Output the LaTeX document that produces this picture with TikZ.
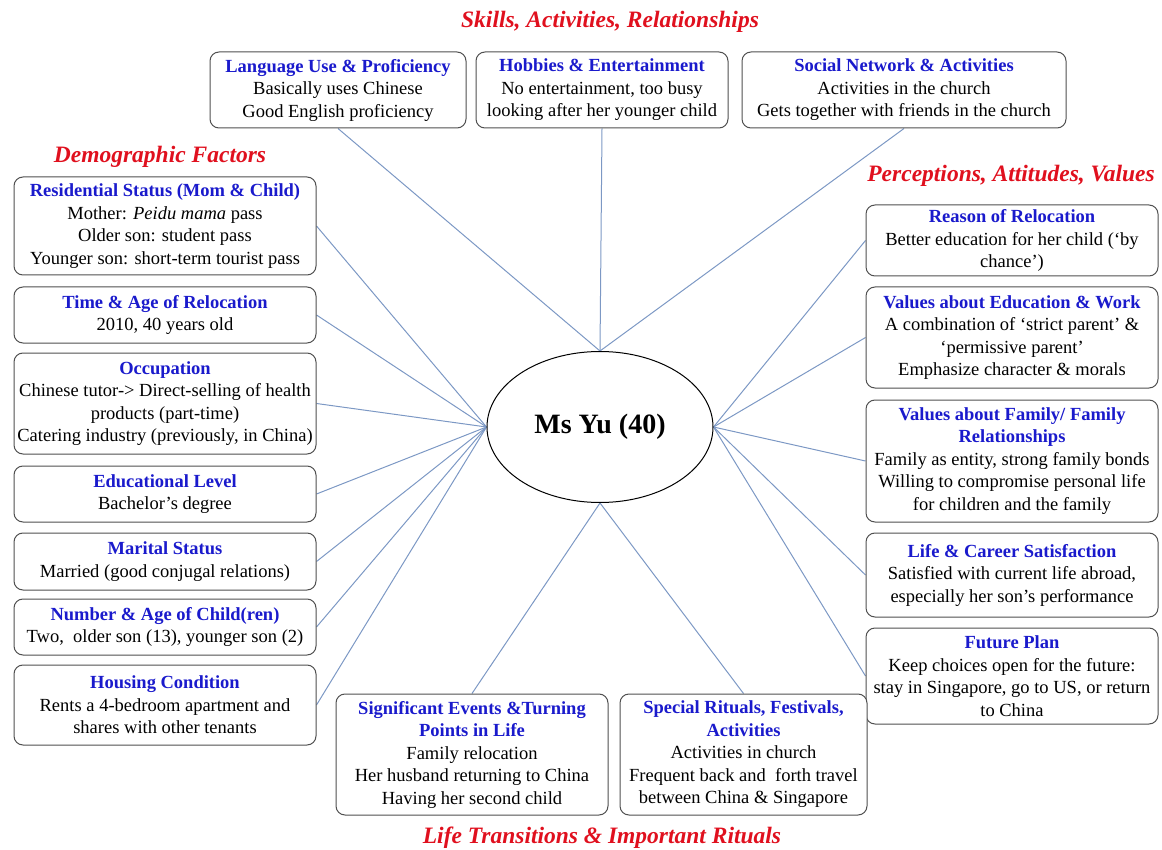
\documentclass[tikz,border=0pt]{standalone}
\usepackage{fontspec}
\setmainfont{Liberation Serif}
\usetikzlibrary{backgrounds,shapes.geometric}
\definecolor{TitleBlue}{HTML}{1A1ACC}
\definecolor{HeadRed}{HTML}{E0101E}
\definecolor{SpokeBlue}{HTML}{7C98C4}
\definecolor{EdgeGray}{HTML}{505050}
\tikzset{
  box/.style={
    rounded corners=9pt,
    draw=EdgeGray,
    line width=1pt,
    fill=white,
    text=black,
    align=center,
    inner sep=2pt,
    font=\fontsize{18.5}{22.5}\selectfont
  },
  hub/.style={
    ellipse,
    draw=black,
    line width=1pt,
    fill=white,
    minimum width=226pt,
    minimum height=151pt,
    font=\fontsize{28}{30}\selectfont\bfseries
  },
  grouplabel/.style={
    font=\fontsize{23.5}{26}\selectfont\bfseries\itshape,
    text=HeadRed
  },
  spoke/.style={
    draw=SpokeBlue,
    line width=1pt
  },
  leftcol/.style={minimum width=302pt},
  rightcol/.style={minimum width=292pt}
}
% blue bold heading line inside a box
\newcommand{\headline}{\color{TitleBlue}\bfseries}
\newcommand{\factorbox}[5]{%
  \node[box, #3] (#1) at (#2) {%
    \headline #4\\
    #5};
}

\begin{document}
\begin{tikzpicture}[x=1pt,y=-1pt]
\useasboundingbox (0,0) rectangle (1162,850);

% Centre.
\node[hub] (hub) at (600,427) {Ms Yu (40)};

% Group headings.
\node[grouplabel] (skills) at (610,22) {Skills, Activities, Relationships};
\node[grouplabel] (demo) at (160,157) {Demographic Factors};
\node[grouplabel] (percep) at (1011,176) {Perceptions, Attitudes, Values};
\node[grouplabel] (trans) at (602,838) {Life Transitions \& Important Rituals};

% Top row: skills, activities, relationships.
\factorbox{lang}{338,90}{minimum width=256pt, minimum height=76pt}{Language Use \& Proficiency}{%
  Basically uses Chinese\\
  Good English proficiency}

\factorbox{hobby}{602,90}{minimum width=252pt, minimum height=76pt}{Hobbies \& Entertainment}{%
  No entertainment, too busy\\
  looking after her younger child}

\factorbox{social}{904,90}{minimum width=324pt, minimum height=76pt}{Social Network \& Activities}{%
  Activities in the church\\
  Gets together with friends in the church}

% Left column: demographic factors.
\factorbox{resid}{165,226}{leftcol, minimum height=98pt}{Residential Status (Mom \& Child)}{%
  Mother: \textit{Peidu mama} pass\\
  Older son: student pass\\
  Younger son: short-term tourist pass}

\factorbox{timeage}{165,315}{leftcol, minimum height=56pt}{Time \& Age of Relocation}{%
  2010, 40 years old}

\factorbox{occup}{165,403.5}{leftcol, minimum height=101pt}{Occupation}{%
  Chinese tutor-> Direct-selling of health\\
  products (part-time)\\
  Catering industry (previously, in China)}

\factorbox{educ}{165,494}{leftcol, minimum height=56pt}{Educational Level}{%
  Bachelor’s degree}

\factorbox{marital}{165,561.5}{leftcol, minimum height=57pt}{Marital Status}{%
  Married (good conjugal relations)}

\factorbox{children}{165,627}{leftcol, minimum height=56pt}{Number \& Age of Child(ren)}{%
  Two,\ \ older son (13), younger son (2)}

\factorbox{housing}{165,705}{leftcol, minimum height=80pt}{Housing Condition}{%
  Rents a 4-bedroom apartment and\\
  shares with other tenants}

% Right column: perceptions, attitudes, values.
\factorbox{reason}{1012,240.5}{rightcol, minimum height=71pt}{Reason of Relocation}{%
  Better education for her child (‘by\\
  chance’)}

\factorbox{valedu}{1012,337.5}{rightcol, minimum height=101pt}{Values about Education \& Work}{%
  A combination of ‘strict parent’ \&\\
  ‘permissive parent’\\
  Emphasize character \& morals}

\factorbox{valfam}{1012,461}{rightcol, minimum height=122pt}{Values about Family/ Family\\\headline Relationships}{%
  Family as entity, strong family bonds\\
  Willing to compromise personal life\\
  for children and the family}

\factorbox{satisf}{1012,575}{rightcol, minimum height=84pt}{Life \& Career Satisfaction}{%
  Satisfied with current life abroad,\\
  especially her son’s performance}

\factorbox{future}{1012,676}{rightcol, minimum height=96pt}{Future Plan}{%
  Keep choices open for the future:\\
  stay in Singapore, go to US, or return\\
  to China}

% Bottom row: life transitions and rituals.
\factorbox{events}{472,754.5}{minimum width=272pt, minimum height=121pt}{Significant Events \&Turning\\\headline Points in Life}{%
  Family relocation\\
  Her husband returning to China\\
  Having her second child}

\factorbox{rituals}{743.5,754.5}{minimum width=247pt, minimum height=121pt}{Special Rituals, Festivals,\\\headline Activities}{%
  Activities in church\\
  Frequent back and\ \ forth travel\\
  between China \& Singapore}

% Spokes.
\begin{scope}[on background layer]
  \foreach \n in {lang,hobby,social}
    \draw[spoke] (hub.north) -- (\n.south);
  \foreach \n in {resid,timeage,occup,educ,marital,children,housing}
    \draw[spoke] (hub.west) -- (\n.east);
  \foreach \n in {reason,valedu,valfam,satisf,future}
    \draw[spoke] (hub.east) -- (\n.west);
  \foreach \n in {events,rituals}
    \draw[spoke] (hub.south) -- (\n.north);
\end{scope}

\end{tikzpicture}
\end{document}
